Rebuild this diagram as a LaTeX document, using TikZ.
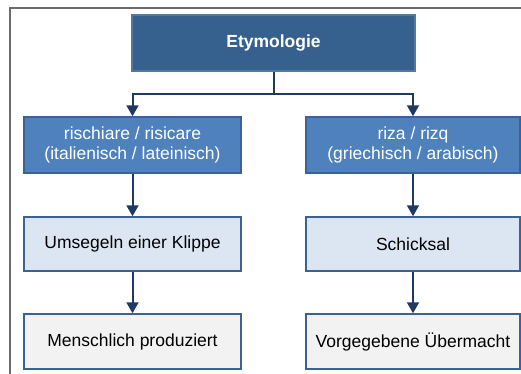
\documentclass[tikz,border=0pt]{standalone}
\usepackage{fontspec}
\setmainfont{Liberation Sans}
\usetikzlibrary{arrows.meta}
\definecolor{topblue}{HTML}{36618F}
\definecolor{midblue}{HTML}{4F81BD}
\definecolor{edgeblue}{HTML}{3A6393}
\definecolor{paleblue}{HTML}{DCE6F2}
\definecolor{palegray}{HTML}{F2F2F2}
\definecolor{navy}{HTML}{1F3A62}
\definecolor{framegray}{HTML}{6B6B6B}

\begin{document}
\begin{tikzpicture}[x=1pt, y=-1pt,
  box/.style={draw=edgeblue, line width=1.5pt, inner sep=0pt, align=center,
    minimum width=217pt, minimum height=56pt, font=\fontsize{17.5}{20.5}\selectfont},
  rootbox/.style={box, fill=topblue, draw=topblue!85!white, text=white,
    minimum width=283pt, font=\fontsize{17.5}{20.5}\selectfont\bfseries},
  originbox/.style={box, fill=midblue, text=white},
  meaningbox/.style={box, fill=paleblue, minimum height=54pt},
  sourcebox/.style={box, fill=palegray, minimum height=55pt},
  conn/.style={draw=navy, line width=2pt, -{Triangle[width=12pt,length=11pt]}},
  ]
  \useasboundingbox (0,0) rectangle (521,373);
  % frame
  \draw[framegray, line width=2pt] (10,380) -- (10,7.5) -- (530,7.5);
  % nodes
  \node[rootbox] (etym) at (273.5, 43) {Etymologie};
  \node[originbox] (ital) at (132.5, 145) {rischiare / risicare\\(italienisch / lateinisch)};
  \node[originbox, minimum width=214pt] (arab) at (413, 145) {riza / rizq\\(griechisch / arabisch)};
  \node[meaningbox] (klippe) at (132.5, 244) {Umsegeln einer Klippe};
  \node[meaningbox, minimum width=214pt] (schicksal) at (413, 244) {Schicksal};
  \node[sourcebox] (mensch) at (132.5, 341.5) {Menschlich produziert};
  \node[sourcebox, minimum width=214pt] (macht) at (413, 341.5) {Vorgegebene Übermacht};
  % connectors
  \coordinate (split) at (273.5, 94);
  \draw[navy, line width=2pt] (etym.south) -- (split);
  \draw[conn] (split) -| (ital.north);
  \draw[conn] (split) -| (arab.north);
  \draw[conn] (ital) -- (klippe);
  \draw[conn] (arab) -- (schicksal);
  \draw[conn] (klippe) -- (mensch);
  \draw[conn] (schicksal) -- (macht);
\end{tikzpicture}
\end{document}
